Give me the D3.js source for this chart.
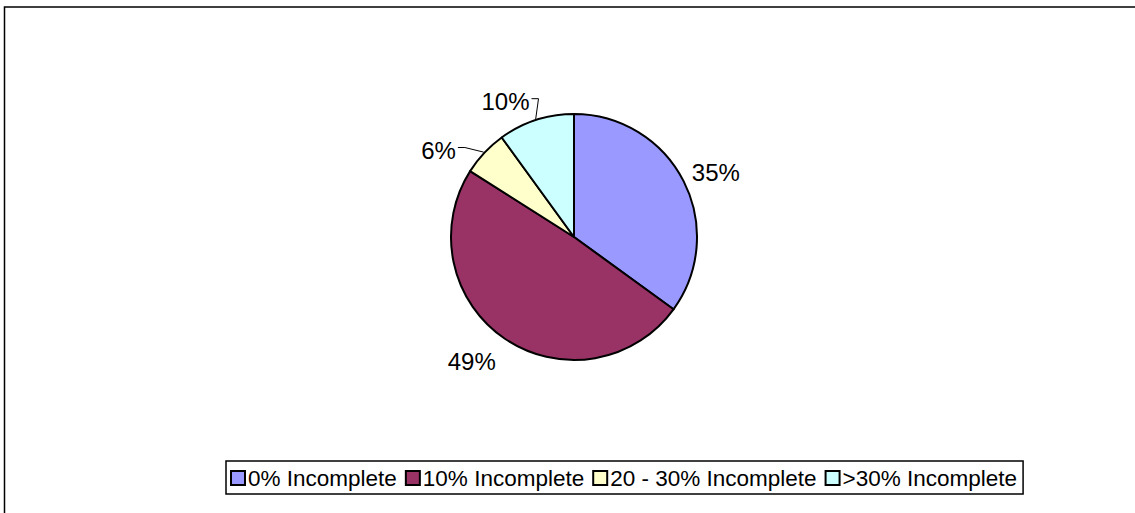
<!DOCTYPE html>
<html><head><meta charset="utf-8">
<script src="https://cdn.jsdelivr.net/npm/d3@7"></script>
<style>
html,body{margin:0;padding:0;background:#fff;}
svg{display:block;font-family:"Liberation Sans",Arial,sans-serif;}
</style></head>
<body>
<svg id="chart" width="1135" height="513"></svg>
<script>
// ---- data ----
const categories = ["0% Incomplete", "10% Incomplete", "20 - 30% Incomplete", ">30% Incomplete"];
const values = [35, 49, 6, 10];
const labels = ["35%", "49%", "6%", "10%"];
const colors = ["#9999FF", "#993366", "#FFFFCC", "#CCFFFF"];

// ---- layout ----
const W = 1135, H = 513;
const cx = 574, cy = 237, R = 123;
const labelR = 157;
// per-label nudges (pixels) for label placement, and whether a leader is drawn
const labelNudge = [[2, 7], [-14, -5], [-21, 21], [-20, 14]];
const leader = [false, false, true, true];

const svg = d3.select("#chart");
svg.append("rect").attr("x", 0).attr("y", 0).attr("width", W).attr("height", H).attr("fill", "#fff");
// outer chart border (right/bottom edges fall outside the viewport)
svg.append("rect").attr("x", 4.5).attr("y", 7).attr("width", 1300).attr("height", 700)
  .attr("fill", "none").attr("stroke", "#000").attr("stroke-width", 1.5);

const pie = d3.pie().sort(null).value(d => d)(values);
const arc = d3.arc().innerRadius(0).outerRadius(R);
const g = svg.append("g").attr("transform", `translate(${cx},${cy})`);
g.selectAll("path.slice").data(pie).join("path")
  .attr("class", "slice")
  .attr("d", arc)
  .attr("fill", (d, i) => colors[i])
  .attr("stroke", "#000").attr("stroke-width", 2).attr("stroke-linejoin", "round");

const mid = d => (d.startAngle + d.endAngle) / 2;
pie.forEach((d, i) => {
  const a = mid(d);
  const lx = Math.sin(a) * labelR + labelNudge[i][0];
  const ly = -Math.cos(a) * labelR + labelNudge[i][1];
  const t = g.append("text").attr("x", lx).attr("y", ly)
    .attr("text-anchor", "middle").attr("dominant-baseline", "central")
    .attr("font-size", 24).attr("fill", "#000").text(labels[i]);
  if (leader[i]) {
    const w = t.node().getComputedTextLength();
    const x0 = lx + w / 2 + 2, y0 = ly - 3;
    const ex = Math.sin(a) * (R + 1), ey = -Math.cos(a) * (R + 1);
    g.append("polyline")
      .attr("points", `${x0},${y0} ${x0 + 7},${y0} ${ex},${ey}`)
      .attr("fill", "none").attr("stroke", "#000").attr("stroke-width", 1);
  }
});

// ---- legend ----
const lg = svg.append("g");
const box = lg.append("rect").attr("fill", "#fff").attr("stroke", "#000").attr("stroke-width", 1.5);
const sq = 14, gapSq = 3, gapItem = 9;
let x = 231; const ty = 478;
categories.forEach((c, i) => {
  lg.append("rect").attr("x", x).attr("y", ty - sq / 2).attr("width", sq).attr("height", sq)
    .attr("fill", colors[i]).attr("stroke", "#000").attr("stroke-width", 2);
  x += sq + gapSq;
  const t = lg.append("text").attr("x", x).attr("y", ty).attr("dominant-baseline", "central")
    .attr("font-size", 22.5).attr("fill", "#000").text(c);
  x += t.node().getComputedTextLength() + gapItem;
});
box.attr("x", 226).attr("y", 461).attr("width", x - gapItem + 6 - 226).attr("height", 33);
</script>
</body></html>
